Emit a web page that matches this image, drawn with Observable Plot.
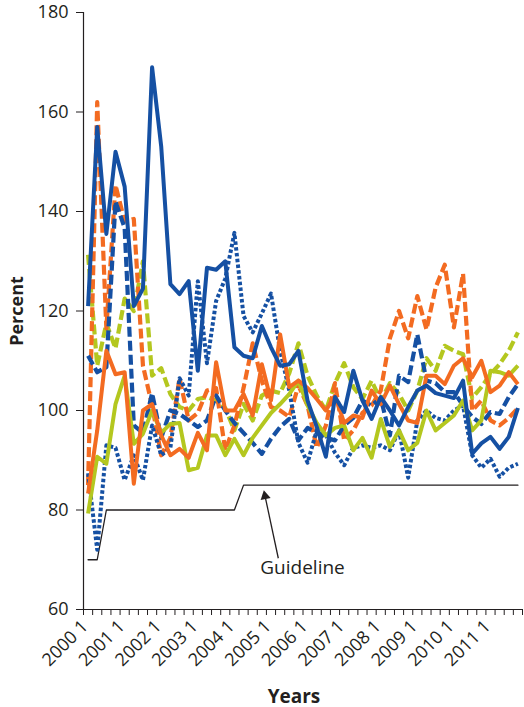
<!DOCTYPE html>
<html><head><meta charset="utf-8">
<script src="https://cdn.jsdelivr.net/npm/d3@7"></script>
<script src="https://cdn.jsdelivr.net/npm/@observablehq/plot@0.6"></script>
<style>
html,body{margin:0;padding:0;background:#fff;}
#chart svg{display:block;}
</style></head><body><div id="chart"></div>
<script>
// Quarterly periods 2000 Q1 – 2011 Q4
const years = [2000,2001,2002,2003,2004,2005,2006,2007,2008,2009,2010,2011];
const quarterNums = [1,2,3,4];
const periods = years.flatMap(y => quarterNums.map(q => `${y} ${q}`));
const tickLabels = ["2000 1","2001 1","2002 1","2003 1","2004 1","2005 1","2006 1","2007 1","2008 1","2009 1","2010 1","2011 1"];
const yTicks = [60,80,100,120,140,160,180];

// Series values (percent), one per quarter
const blueSolid   = [121,157,135.5,152,145,121,124.5,169,153,125.4, 123.4,126,108,128.7,128.3,130,112.7,111,110.5,117, 112.7,109,109.3,112,102,96.7,90.7,102.7,99.7,108, 102,98.3,102.7,100,97,100.7,104,105,103.5,103, 102.5,106,91.3,93.4,94.7,92.3,94.7,100.5];
const blueDashed  = [111,107.7,108.7,142,136.7,97,95.5,103.5,94.5,100, 99.3,98,96.7,98,103,100,97.5,95.5,93.5,91.3, 94.3,96.7,98.3,94,96.5,95.5,94.5,94,97,98.5, 102,101,102.5,95,107,105.7,115.3,106,105.5,103.7, 103.7,101,98.7,97.3,99.7,99.3,102.7,105.3];
const blueDotted  = [87.4,72,93,92.5,86,91,86,97,91,92.5, 106.5,103,126,109.5,122,126.5,135.7,119,115.7,119.5, 123.5,112,104,93.5,89.5,96,95,91.5,89,92.5, 93,92.5,93,92,96,86.5,98,100,98.5,98, 100,101,91,88.5,90.3,86.7,88.5,89.3];
const orangeSolid = [83.3,96,112,107.3,107.7,85.3,100,101.3,95,91, 92.3,90.5,95.5,92,109.7,100,100,103.3,99,109.3, 102,115.3,104.7,106,104.5,102.3,100,103,97.5,99, 98.5,104,101.3,105,101.3,98,97.5,107,107,105.3, 109,110.5,106.7,110,103.7,105,107.7,105.3];
const orangeDashed= [85,162,116.5,145.3,138,138.5,109,101,91,94.5, 106.5,98,99.5,104,104.5,92,97,104.5,113.5,106, 100.7,100,98.7,105,101,92.5,97,105.5,94,96, 99.5,101,104,114.5,120,114.5,123,116.3,124.7,129.3, 116.7,127.5,100,102,98,97,98.5,100.5];
const greenSolid  = [79.3,90.7,89.3,101.3,107,93.3,95.3,100,95.5,97.3, 97.5,88,88.5,95,95,91,94.3,91,94.5,97, 99.5,101.3,103.3,106,101,97.5,95,96.5,97,92, 94.5,90.5,98.3,92.7,96,92,93.5,100,96,97.5, 99,102,96,98,108,107.7,107,109];
const greenDashed = [131.3,109,117.5,112.5,122.5,120,130,107,108.5,103.3, 100.7,100,102.3,102.7,102,100.5,96,101.3,98,103, 104,103.5,107.5,113.5,107,103,100,105.5,109.5,104.7, 102.3,106,102,105.5,103.3,100,104,110.5,108,113, 112,111.3,102.5,104.7,107.3,109.3,112,115.7];
const guideline   = [70,70,80,80,80,80,80,80,80,80, 80,80,80,80,80,80,80,85,85,85, 85,85,85,85,85,85,85,85,85,85, 85,85,85,85,85,85,85,85,85,85, 85,85,85,85,85,85,85,85];

// Annotation (in data units: quarter index, percent)
const noteLabel = ["Guideline"];
const noteText  = [{x: 23.45, y: 68.4}];
const noteArrow = [{x1: 20.8, y1: 70.3, x2: 19.35, y2: 82.8}];

const BLUE = "#1550a3", ORANGE = "#f36b21", GREEN = "#b4c71f", INK = "#231f20";
const seriesDefs = [
  {name: "greenDashed", values: greenDashed, color: GREEN, dash: "10,4", w: 4.2},
  {name: "orangeDashed", values: orangeDashed, color: ORANGE, dash: "10,4", w: 4.2},
  {name: "blueDotted", values: blueDotted, color: BLUE, dash: "3.5,2.3", w: 4},
  {name: "blueDashed", values: blueDashed, color: BLUE, dash: "10,4", w: 4.2},
  {name: "greenSolid", values: greenSolid, color: GREEN, dash: null, w: 4},
  {name: "orangeSolid", values: orangeSolid, color: ORANGE, dash: null, w: 4},
  {name: "blueSolid", values: blueSolid, color: BLUE, dash: null, w: 4}
];
const toRows = vals => vals.map((v, i) => ({i, period: periods[i], v}));

const lineMarks = seriesDefs.map(s => Plot.line(toRows(s.values), {
  x: "i", y: "v", stroke: s.color, strokeWidth: s.w,
  strokeDasharray: s.dash || undefined, strokeLinecap: "butt", strokeLinejoin: "round"
}));

const labelIdx = tickLabels.map(l => periods.indexOf(l));
const boundaries = d3.range(-0.5, periods.length, 1);

const chart = Plot.plot({
  width: 524, height: 707,
  marginLeft: 83, marginRight: 2, marginTop: 12, marginBottom: 98,
  style: {fontFamily: "'Open Sans', sans-serif", fontSize: "18px", color: INK, background: "#fff", overflow: "visible"},
  x: {type: "linear", domain: [-0.5, periods.length - 0.5], axis: null},
  y: {domain: [60, 180], axis: null},
  marks: [
    Plot.axisY({ticks: yTicks, tickSize: 7, tickPadding: 8, label: null, fontSize: 18, stroke: INK}),
    Plot.axisX({ticks: boundaries, tickSize: 6, tickFormat: () => "", label: null, stroke: INK}),
    Plot.axisX({ticks: labelIdx, tickFormat: i => periods[i], tickRotate: -45, tickSize: 0, tickPadding: 14, dx: -3, label: null, fontSize: 18}),
    Plot.ruleX([-0.5], {stroke: INK, strokeWidth: 1.2}),
    Plot.ruleY([60], {stroke: INK, strokeWidth: 1.2}),
    Plot.line(toRows(guideline), {x: "i", y: "v", stroke: INK, strokeWidth: 1.3}),
    ...lineMarks,
    Plot.link(noteArrow, {x1: "x1", y1: "y1", x2: "x2", y2: "y2", stroke: INK, strokeWidth: 1.3}),
    Plot.dot(noteArrow, {x: "x2", y: "y2", symbol: "triangle", r: 3.8, fill: INK, stroke: "none", rotate: -12}),
    Plot.text(noteText, {x: "x", y: "y", text: () => noteLabel[0], fontSize: 19, fill: INK}),
    Plot.text(["Percent"], {frameAnchor: "left", textAnchor: "middle", rotate: -90, dx: -66, fontSize: 18, fontWeight: "bold", fill: INK}),
    Plot.text(["Years"], {frameAnchor: "bottom", textAnchor: "middle", dy: 93, dx: -9, fontSize: 19, fontWeight: "bold", fill: INK})
  ]
});
document.getElementById("chart").append(chart);
</script>
</body></html>
